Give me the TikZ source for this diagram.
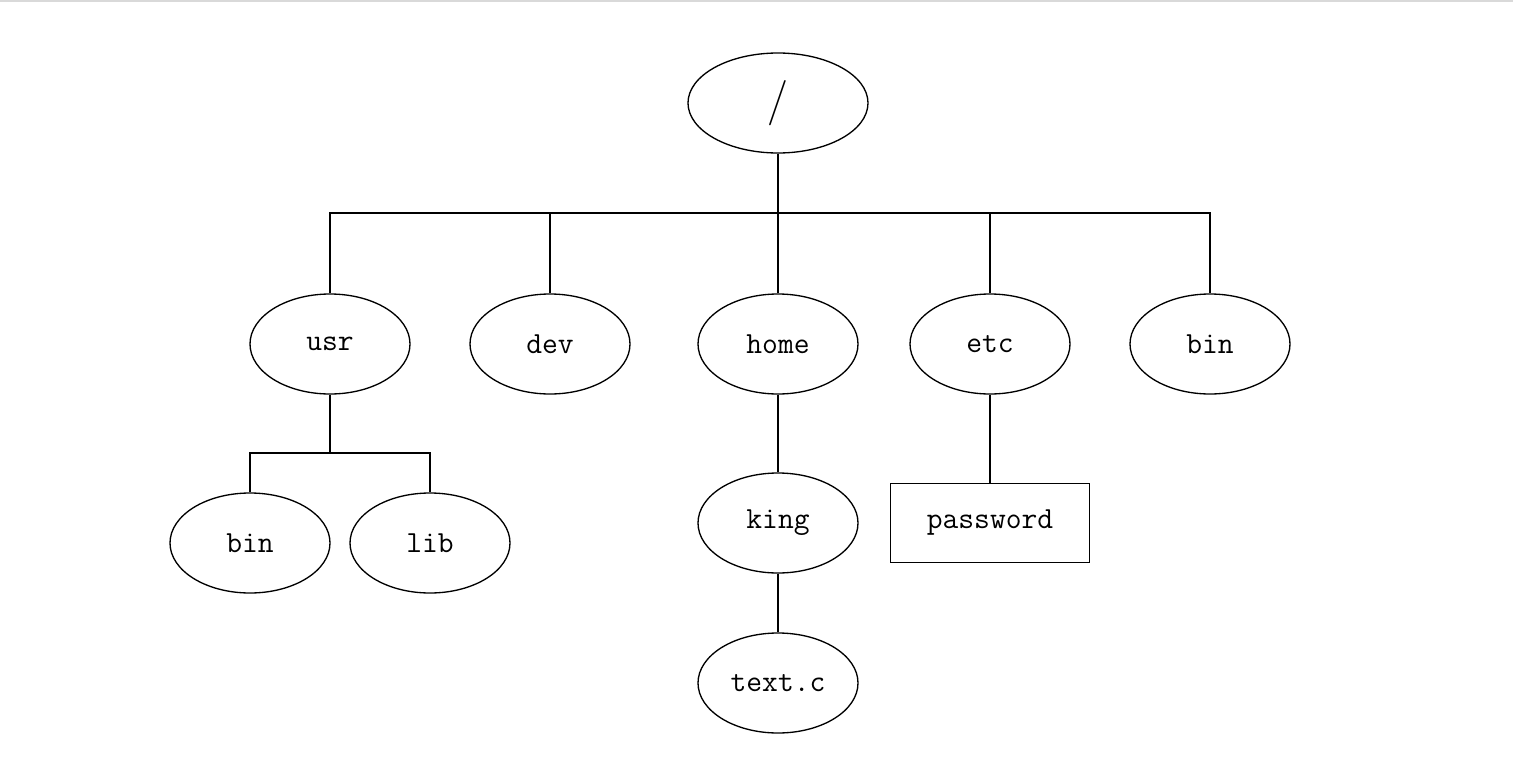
\documentclass[tikz,border=0pt]{standalone}
\usetikzlibrary{shapes.geometric}
\tikzset{every picture/.style={line width=1pt}}
\tikzset{dir/.style={draw,ellipse,minimum width=120pt,minimum height=75pt,inner sep=0pt,font=\fontsize{23}{26}\selectfont\ttfamily},
  file/.style={draw,rectangle,minimum width=149pt,minimum height=59pt,inner sep=0pt,font=\fontsize{23}{26}\selectfont\ttfamily}}
\begin{document}
\begin{tikzpicture}[x=0.75pt,y=0.75pt,yscale=-1]
  \useasboundingbox (0,0) rectangle (1513,778);
  \draw[black!15] (0,1) -- (1513,1);

  % root
  \node[dir,minimum width=135pt,font=\fontsize{34}{38}\selectfont] (root) at (778,103) {/};
  % first level
  \node[dir] (usr) at (330,344) {usr};
  \node[dir] (dev) at (550,344) {dev};
  \node[dir] (home) at (778,344) {home};
  \node[dir] (etc) at (990,344) {etc};
  \node[dir] (bin) at (1210,344) {bin};
  % second level
  \node[dir] (usrbin) at (250,543) {bin};
  \node[dir] (lib) at (430,543) {lib};
  \node[dir] (king) at (778,523) {king};
  \node[file] (passwd) at (990,523) {password};
  \node[dir] (textc) at (778,683) {text.c};

  \coordinate (bus) at (778,213);
  \coordinate (usrbus) at (330,453);

  \draw (root.south) -- (bus);
  \draw (usr.north) |- (bus) -| (bin.north);
  \draw (dev.north) -- (dev.north |- bus);
  \draw (home.north) -- (home.north |- bus);
  \draw (etc.north) -- (etc.north |- bus);
  \draw (usr.south) -- (usrbus);
  \draw (usrbin.north) |- (usrbus) -| (lib.north);
  \draw (home) -- (king);
  \draw (king) -- (textc);
  \draw (etc) -- (passwd);
\end{tikzpicture}
\end{document}
